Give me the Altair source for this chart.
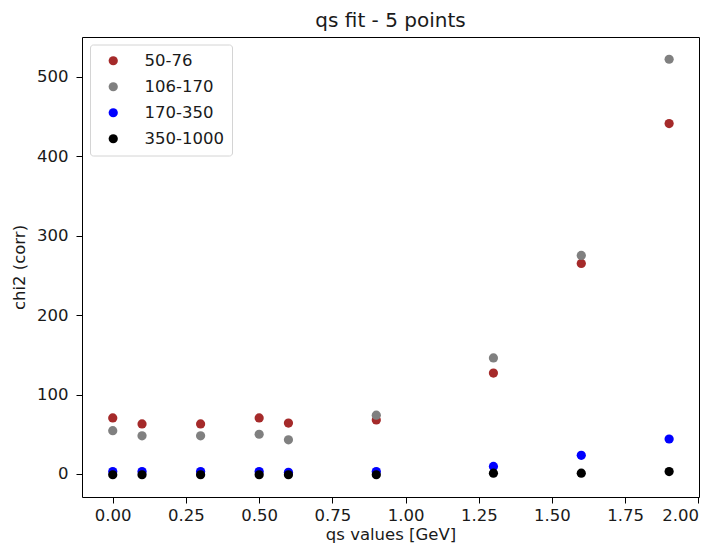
import altair as alt
import pandas as pd

qs = [0.0, 0.1, 0.3, 0.5, 0.6, 0.9, 1.3, 1.6, 1.9]
series_names = ["50-76", "106-170", "170-350", "350-1000"]
chi2_50_76 = [70.5, 63, 63, 70.5, 64, 68, 127, 265, 441]
chi2_106_170 = [54.5, 48, 48, 50, 43, 74, 146, 275, 522]
chi2_170_350 = [3, 3, 3, 3, 2, 3, 9.5, 23.5, 44]
chi2_350_1000 = [-1, -1, -1, -1, -1, -1, 1, 1, 3]
colors = ["#a52a2a", "#808080", "#0000ff", "#000000"]

rows = []
for i, (name, vals) in enumerate(zip(series_names, [chi2_50_76, chi2_106_170, chi2_170_350, chi2_350_1000])):
    for xv, yv in zip(qs, vals):
        rows.append({"qs": xv, "chi2": yv, "range": name, "ord": i})
df = pd.DataFrame(rows)

font = "DejaVu Sans"
txt = "#1a1a1a"

chart = alt.Chart(df).mark_circle(size=85, opacity=1).encode(
    x=alt.X("qs:Q", title="qs values [GeV]",
            scale=alt.Scale(domain=[-0.105, 2.002], nice=False, zero=False),
            axis=alt.Axis(values=[0, 0.25, 0.5, 0.75, 1.0, 1.25, 1.5, 1.75, 2.0], format=".2f",
                          labelPadding=4, titlePadding=3)),
    y=alt.Y("chi2:Q", title="chi2 (corr)",
            scale=alt.Scale(domain=[-29, 550], nice=False, zero=False),
            axis=alt.Axis(values=[0, 100, 200, 300, 400, 500], labelPadding=8, titlePadding=9)),
    color=alt.Color("range:N", scale=alt.Scale(domain=series_names, range=colors),
                    legend=alt.Legend(title=None, orient="none", legendX=8, legendY=7.5)),
    order=alt.Order("ord:Q"),
).properties(
    width=617, height=460,
    title=alt.TitleParams("qs fit - 5 points", font=font, fontSize=20, fontWeight="normal", color=txt, offset=6),
    autosize=alt.AutoSizeParams(type="none"),
    padding={"left": 74, "top": 29, "right": 10, "bottom": 47},
).configure_view(
    stroke="#000000", strokeWidth=1
).configure_axis(
    grid=False, domain=False, tickColor="#000000", tickSize=6, tickWidth=1,
    labelFont=font, labelFontSize=16.5, labelColor=txt,
    titleFont=font, titleFontSize=16.5, titleFontWeight="normal", titleColor=txt,
).configure_legend(
    labelFont=font, labelFontSize=16.5, labelColor=txt, symbolSize=85, symbolType="circle",
    strokeColor="#d4d4d4", cornerRadius=3, padding=8, rowPadding=9, labelOffset=23,
    symbolOffset=7, fillColor="#ffffff", symbolStrokeWidth=0, symbolOpacity=1,
)

chart.save("out.html", embed_options={"renderer": "svg", "actions": False})
